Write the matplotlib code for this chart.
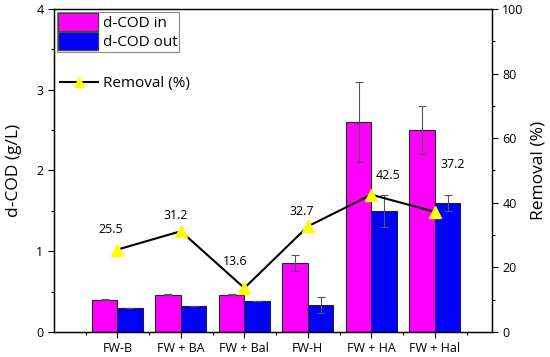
import matplotlib as mpl
mpl.use('Agg')
import matplotlib.pyplot as plt
import numpy as np
from matplotlib.patches import Patch
from matplotlib.lines import Line2D
from matplotlib.ticker import MultipleLocator

plt.rcParams['font.family'] = ['Open Sans', 'DejaVu Sans']

categories = ['FW-B', 'FW + BA', 'FW + Bal', 'FW-H', 'FW + HA', 'FW + Hal']
cod_in = [0.40, 0.46, 0.46, 0.85, 2.60, 2.50]
cod_in_err = [0.005, 0.005, 0.005, 0.10, 0.50, 0.30]
cod_out = [0.30, 0.32, 0.39, 0.33, 1.50, 1.60]
cod_out_err = [0.0, 0.0, 0.0, 0.10, 0.20, 0.10]
removal = [25.5, 31.2, 13.6, 32.7, 42.5, 37.2]

# label offsets (pixels) for the removal values
label_offsets = [(-7, 20), (-5, 16), (-9, 27), (-6, 15), (17, 19), (18, 47)]

pink = '#FF00FF'
blue = '#0000FF'

fig = plt.figure(figsize=(5.5, 3.57), dpi=100)
ax = fig.add_axes([0.098, 0.070, 0.7965, 0.905])
ax2 = ax.twinx()

x = np.arange(1, len(categories) + 1)
w = 0.4
ax.bar(x - w/2, cod_in, w, color=pink, edgecolor='#222222', lw=0.8, zorder=2)
ax.bar(x + w/2, cod_out, w, color=blue, edgecolor='#222222', lw=0.8, zorder=2)
ax.errorbar(x - w/2, cod_in, yerr=cod_in_err, fmt='none', ecolor='#555555',
            elinewidth=0.8, capsize=3, capthick=0.8, zorder=3)
ax.errorbar(x + w/2, cod_out, yerr=cod_out_err, fmt='none', ecolor='#555555',
            elinewidth=0.8, capsize=3, capthick=0.8, zorder=3)

ax2.plot(x, removal, color='black', lw=1.5, marker='^', markersize=8,
         markerfacecolor='#FFFF00', markeredgecolor='#FFFF00', zorder=4)
for xi, v, off in zip(x, removal, label_offsets):
    ax2.annotate('%.1f' % v, xy=(xi, v), xytext=off, textcoords='offset pixels',
                 ha='center', va='center', fontsize=9)

ax.set_xlim(0, 6.9)
ax.set_ylim(0, 4)
ax2.set_ylim(0, 100)

ax.set_xticks(x)
ax.set_xticklabels(categories, fontsize=9)
ax.set_xticks(np.arange(0.5, 7, 1), minor=True)
ax.yaxis.set_major_locator(MultipleLocator(1))
ax.yaxis.set_minor_locator(MultipleLocator(0.5))
ax2.yaxis.set_major_locator(MultipleLocator(20))
ax2.yaxis.set_minor_locator(MultipleLocator(10))

ax.tick_params(axis='both', which='major', direction='out', length=4, width=0.8, labelsize=9)
ax.tick_params(axis='both', which='minor', direction='out', length=2.5, width=0.8)
ax2.tick_params(axis='y', which='major', direction='out', length=4, width=0.8, labelsize=9)
ax2.tick_params(axis='y', which='minor', direction='out', length=2.5, width=0.8)

ax.set_ylabel('d-COD (g/L)', fontsize=12.5)
ax2.set_ylabel('Removal (%)', fontsize=12.5)
ax.yaxis.set_label_coords(-0.072, 0.5)
ax2.yaxis.set_label_coords(1.088, 0.5)

for a in (ax, ax2):
    for s in a.spines.values():
        s.set_linewidth(0.9)

bar_handles = [Patch(facecolor=pink, edgecolor='#444444'),
               Patch(facecolor=blue, edgecolor='#444444')]
leg1 = ax2.legend(bar_handles, ['d-COD in', 'd-COD out'], loc='upper left',
                  bbox_to_anchor=(0.006, 0.992), fontsize=11, handlelength=2.6,
                  handleheight=1.45, handletextpad=0.3, labelspacing=0.05,
                  borderpad=0.12, borderaxespad=0, fancybox=False,
                  edgecolor='#888888', framealpha=1)
leg1.get_frame().set_linewidth(0.8)
ax2.add_artist(leg1)
line_handle = Line2D([], [], color='black', lw=1.5, marker='^', markersize=7,
                     markerfacecolor='#FFFF00', markeredgecolor='#FFFF00')
ax2.legend([line_handle], ['Removal (%)'], loc='upper left',
           bbox_to_anchor=(0.0, 0.81), fontsize=11, handlelength=2.5,
           handletextpad=0.3, frameon=False, borderaxespad=0)

fig.savefig('out.png', dpi=100)
